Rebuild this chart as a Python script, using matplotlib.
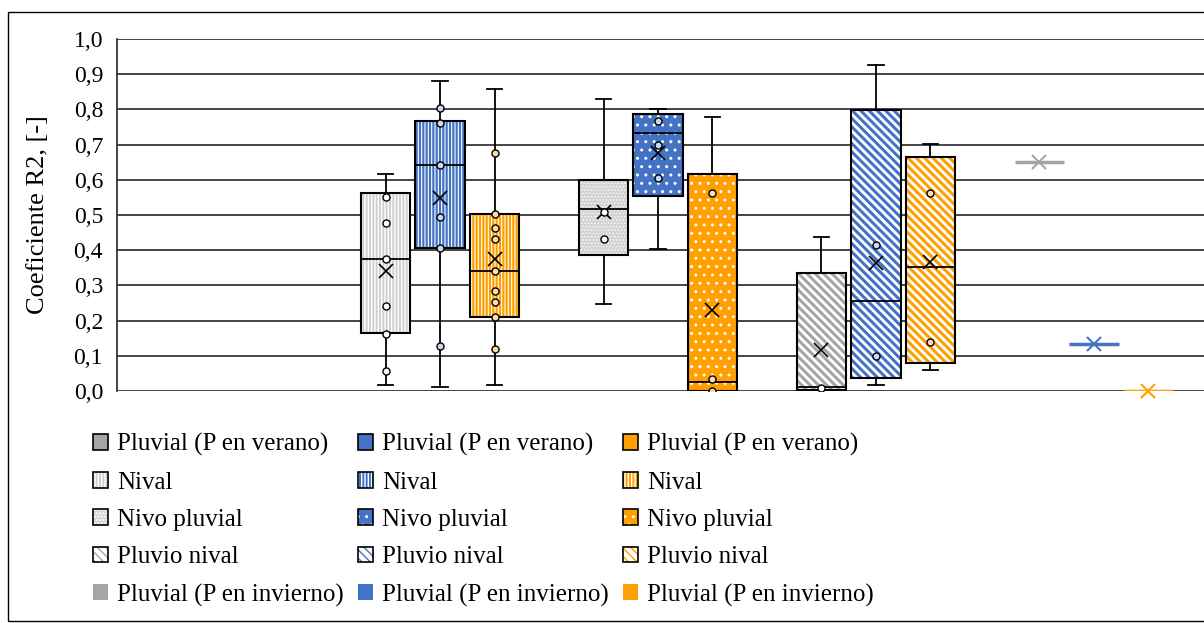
import numpy as np
import matplotlib
matplotlib.use('Agg')
import matplotlib.pyplot as plt
from matplotlib.patches import Rectangle
from matplotlib.legend_handler import HandlerTuple

plt.rcParams['font.family'] = ['Liberation Serif', 'DejaVu Serif']

# categories (regimes) and series colours
regimes = ['Pluvial (P en verano)', 'Nival', 'Nivo pluvial', 'Pluvio nival', 'Pluvial (P en invierno)']
colors = ['#A5A5A5', '#4472C4', '#FF9F00']
point_faces = ['#ffffff', '#c9d8f2', '#ffdca6']

# box stats, rows = series (gris, azul, naranja), cols = Nival, Nivo pluvial, Pluvio nival
q1 = [[0.164, 0.386, 0.003],
      [0.407, 0.554, 0.036],
      [0.211, 0.000, 0.079]]
med = [[0.374, 0.517, 0.012],
       [0.642, 0.734, 0.257],
       [0.342, 0.025, 0.351]]
q3 = [[0.562, 0.599, 0.334],
      [0.767, 0.786, 0.798],
      [0.503, 0.616, 0.666]]
whis_lo = [[0.017, 0.247, 0.003],
           [0.012, 0.404, 0.017],
           [0.017, 0.000, 0.060]]
whis_hi = [[0.617, 0.829, 0.438],
           [0.882, 0.800, 0.926],
           [0.857, 0.778, 0.702]]
means = [[0.342, 0.508, 0.116],
         [0.549, 0.677, 0.363],
         [0.375, 0.230, 0.366]]
points = [[[0.550, 0.478, 0.374, 0.241, 0.163, 0.056], [0.508, 0.431], [0.008]],
          [[0.803, 0.760, 0.642, 0.495, 0.407, 0.129], [0.766, 0.699, 0.606], [0.415, 0.099]],
          [[0.677, 0.503, 0.464, 0.432, 0.342, 0.284, 0.252, 0.211, 0.118], [0.563, 0.033, 0.000], [0.563, 0.138]]]

# Pluvial (P en invierno): a single value per series
winter = [0.651, 0.134, 0.000]

yticks = np.arange(0, 1.01, 0.1)

# fill style per regime: (hatch, face, hatch colour, hatch linewidth)
def fill_style(regime, c):
    if regime == 'Nival':
        if c == colors[0]:
            return '|||||', '#d0d0d0', 'white', 1.0
        return '|||||', c, 'white', 0.8
    if regime == 'Nivo pluvial':
        if c == colors[0]:
            return '.....', '#d4d4d4', 'white', 0.5
        return '..', c, 'white', 1.0
    if regime == 'Pluvio nival':
        return '\\\\\\\\', 'white', c, 2.2
    return None, c, c, 1.0


def hatched_rect(regime, c):
    hatch, face, hcol, hlw = fill_style(regime, c)
    with plt.rc_context({'hatch.linewidth': hlw}):
        p = Rectangle((0, 0), 1, 1, facecolor=face, hatch=hatch, edgecolor=hcol, linewidth=0)
    if hasattr(p, 'set_hatch_linewidth'):
        p.set_hatch_linewidth(hlw)
    return p


fig = plt.figure(figsize=(12.04, 6.23), dpi=100)
ax = fig.add_axes([117 / 1204, 1 - 391 / 623, 1087 / 1204, 352 / 623])

box_w = 0.227
offsets = [-0.25, 0.0, 0.25]

for s in range(3):
    c = colors[s]
    pos = [r + 1 + offsets[s] for r in range(3)]
    # filled, patterned boxes
    for r in range(3):
        hatch, face, hcol, hlw = fill_style(regimes[r + 1], c)
        with plt.rc_context({'hatch.linewidth': hlw}):
            bars = ax.bar(pos[r], q3[s][r] - q1[s][r], bottom=q1[s][r], width=box_w,
                          color=face, hatch=hatch, edgecolor=hcol, linewidth=0, zorder=2)
        for b in bars:
            if hasattr(b, 'set_hatch_linewidth'):
                b.set_hatch_linewidth(hlw)
    ax.bar(pos, np.array(q3[s]) - np.array(q1[s]), bottom=q1[s], width=box_w,
           fill=False, edgecolor='black', linewidth=1.5, zorder=3)

    stats = []
    for r in range(3):
        stats.append(dict(med=med[s][r], q1=q1[s][r], q3=q3[s][r], whislo=whis_lo[s][r],
                          whishi=whis_hi[s][r], mean=means[s][r], fliers=[]))
    ax.bxp(stats, positions=pos, widths=box_w, showbox=False, showmeans=True, showfliers=False,
           capwidths=0.07, manage_ticks=False, zorder=3,
           medianprops=dict(color='black', linewidth=1.3),
           whiskerprops=dict(color='black', linewidth=1.3),
           capprops=dict(color='black', linewidth=1.3),
           meanprops=dict(marker='x', markeredgecolor='black', markersize=10, markeredgewidth=1.2))
    for r in range(3):
        ax.scatter([pos[r]] * len(points[s][r]), points[s][r], s=26, marker='o',
                   facecolor=point_faces[s], edgecolor='black', linewidth=1.0, zorder=4)

    # winter single values
    wx = 4 + offsets[s]
    ax.hlines(winter[s], wx - box_w / 2, wx + box_w / 2, colors=c, linewidth=2.5, zorder=3)
    ax.plot(wx, winter[s], marker='x', color=c, markersize=10, markeredgewidth=1.5, zorder=4, clip_on=False)

ax.set_xlim(-0.482, 4.505)
ax.set_ylim(0, 1.0)
ax.set_yticks(yticks)
ax.set_yticklabels([f'{v:.1f}'.replace('.', ',') for v in yticks], fontsize=17)
ax.tick_params(axis='y', length=0, pad=10)
ax.set_xticks([])
ax.grid(axis='y', color='#262626', linewidth=1.2, zorder=0)
ax.set_axisbelow(True)
for side in ['top', 'right', 'bottom']:
    ax.spines[side].set_visible(False)
ax.spines['left'].set_color('#262626')
ax.spines['left'].set_linewidth(1.2)
ax.set_ylabel('Coeficiente R2, [-]', fontsize=19)
ax.yaxis.set_label_coords(-68 / 1087, 0.5)

# legends, one column per colour
col_x = [93, 358, 623]
for s in range(3):
    c = colors[s]
    handles = []
    for reg in regimes:
        if reg == 'Pluvial (P en verano)':
            handles.append(Rectangle((0, 0), 1, 1, facecolor=c, edgecolor='black', linewidth=1.2))
        elif reg == 'Pluvial (P en invierno)':
            handles.append(Rectangle((0, 0), 1, 1, facecolor=c, edgecolor='none', linewidth=0))
        else:
            handles.append((hatched_rect(reg, c),
                            Rectangle((0, 0), 1, 1, fill=False, edgecolor='black', linewidth=1.2)))
    fig.legend(handles, regimes, loc='center left', bbox_to_anchor=(col_x[s] / 1204, 1 - 520 / 623),
               ncol=1, frameon=False, fontsize=18, borderpad=0, borderaxespad=0,
               handlelength=0.6, handleheight=0.6, handletextpad=0.36, labelspacing=0.61,
               handler_map={tuple: HandlerTuple(ndivide=1, pad=0)})

# outer frame of the picture
fig.patches.append(Rectangle((8 / 1204, 2 / 623), 1.2, 1 - 12 / 623 - 2 / 623, transform=fig.transFigure,
                             fill=False, edgecolor='black', linewidth=1.0))

fig.savefig('out.png', dpi=100)
